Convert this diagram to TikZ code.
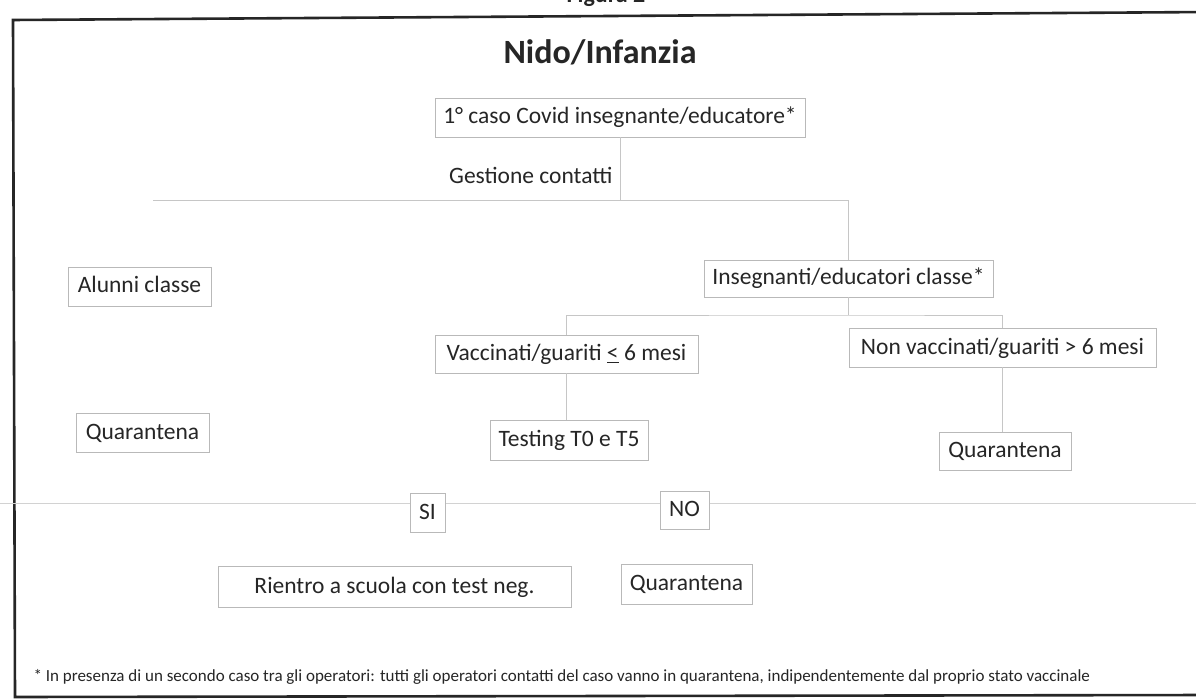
\documentclass[tikz,border=0pt]{standalone}
\usepackage{fontspec}
\setmainfont{Carlito}
\usetikzlibrary{positioning}

\begin{document}
\begin{tikzpicture}[
        x=1pt, y=-1pt,
        node distance=6pt,
        box/.style={rectangle, draw=gray!55, fill=white, line width=0.7pt, inner sep=0pt, minimum height=38pt, align=center, text=black!85, text height=17pt, text depth=4pt, font=\fontsize{23.5}{26}\selectfont},
        conn/.style={draw=gray!45, line width=0.7pt},
        frame/.style={draw=black!85, line width=2.6pt}
    ]
        \useasboundingbox (0,0) rectangle (1196,700);
        \fill[white] (0,0) rectangle (1196,700);
        \draw[frame] (1210,12) -- (13,20) -- (15,697) -- (1210,695);
        \node[font=\bfseries\fontsize{24}{28}\selectfont, text=black!85, anchor=base] (fig) at (606,3) {Figura 2};

        \coordinate (scanL) at (0,503);
        \coordinate (scanR) at (1196,503);
        \draw[conn, draw=gray!35] (scanL) -- (scanR);

        \node[font=\bfseries\fontsize{34}{38}\selectfont, text=black!85] (title) at (600,52) {Nido/Infanzia};

        \node[box, minimum width=370pt, minimum height=39pt] (first) at (620,117.5) {1° caso Covid insegnante/educatore*};
        \node[text=black!85, font=\fontsize{23.5}{26}\selectfont, anchor=east] (gest) at (616,175) {Gestione contatti};

        \node[box, minimum width=143pt, minimum height=39pt] (alunni) at (139.5,286.5) {Alunni classe};
        \node[box, minimum width=289pt, minimum height=37pt] (insegn) at (848.5,278.5) {Insegnanti/educatori classe*};

        \node[box, minimum width=263pt] (vacc) at (566.5,354) {Vaccinati/guariti \underline{<} 6 mesi};
        \node[box, minimum width=307pt, minimum height=39pt] (nonvacc) at (1002.5,347.5) {Non vaccinati/guariti > 6 mesi};

        \node[box, minimum width=133pt, minimum height=39pt] (quarL) at (142.5,432.5) {Quarantena};
        \node[box, minimum width=158pt, minimum height=40pt] (testing) at (569,440) {Testing T0 e T5};
        \node[box, minimum width=132pt] (quarR) at (1005,451) {Quarantena};

        \node[box, minimum width=35pt, minimum height=39pt] (si) at (427.5,512.5) {SI};
        \node[box, minimum width=49pt] (no) at (684.5,510) {NO};

        \node[box, minimum width=353pt, minimum height=41pt] (rientro) at (394.5,586.5) {Rientro a scuola con test neg.};
        \node[box, minimum width=131pt, minimum height=40pt] (quarB) at (686.5,584) {Quarantena};

        \coordinate (hl) at (153,200);
        \coordinate (hr) at (insegn.north |- hl);
        \draw[conn] (first.south) -- (first.south |- hl);
        \draw[conn] (hl) -- (hr) -- (insegn.north);

        \coordinate (split) at (insegn.south |- 0,315);
        \draw[conn] (insegn.south) -- (split);
        \draw[conn] (vacc.north) |- (split) -| (nonvacc.north);
        \draw[conn] (vacc.south) -- (vacc.south |- testing.north);
        \draw[conn] (nonvacc.south) -- (nonvacc.south |- quarR.north);

        \node[text=black!85, font=\fontsize{17}{19}\selectfont, anchor=west] (note) at (30,677) {* In presenza di un secondo caso tra gli operatori: tutti gli operatori contatti del caso vanno in quarantena, indipendentemente dal proprio stato vaccinale};
    \end{tikzpicture}
\end{document}
